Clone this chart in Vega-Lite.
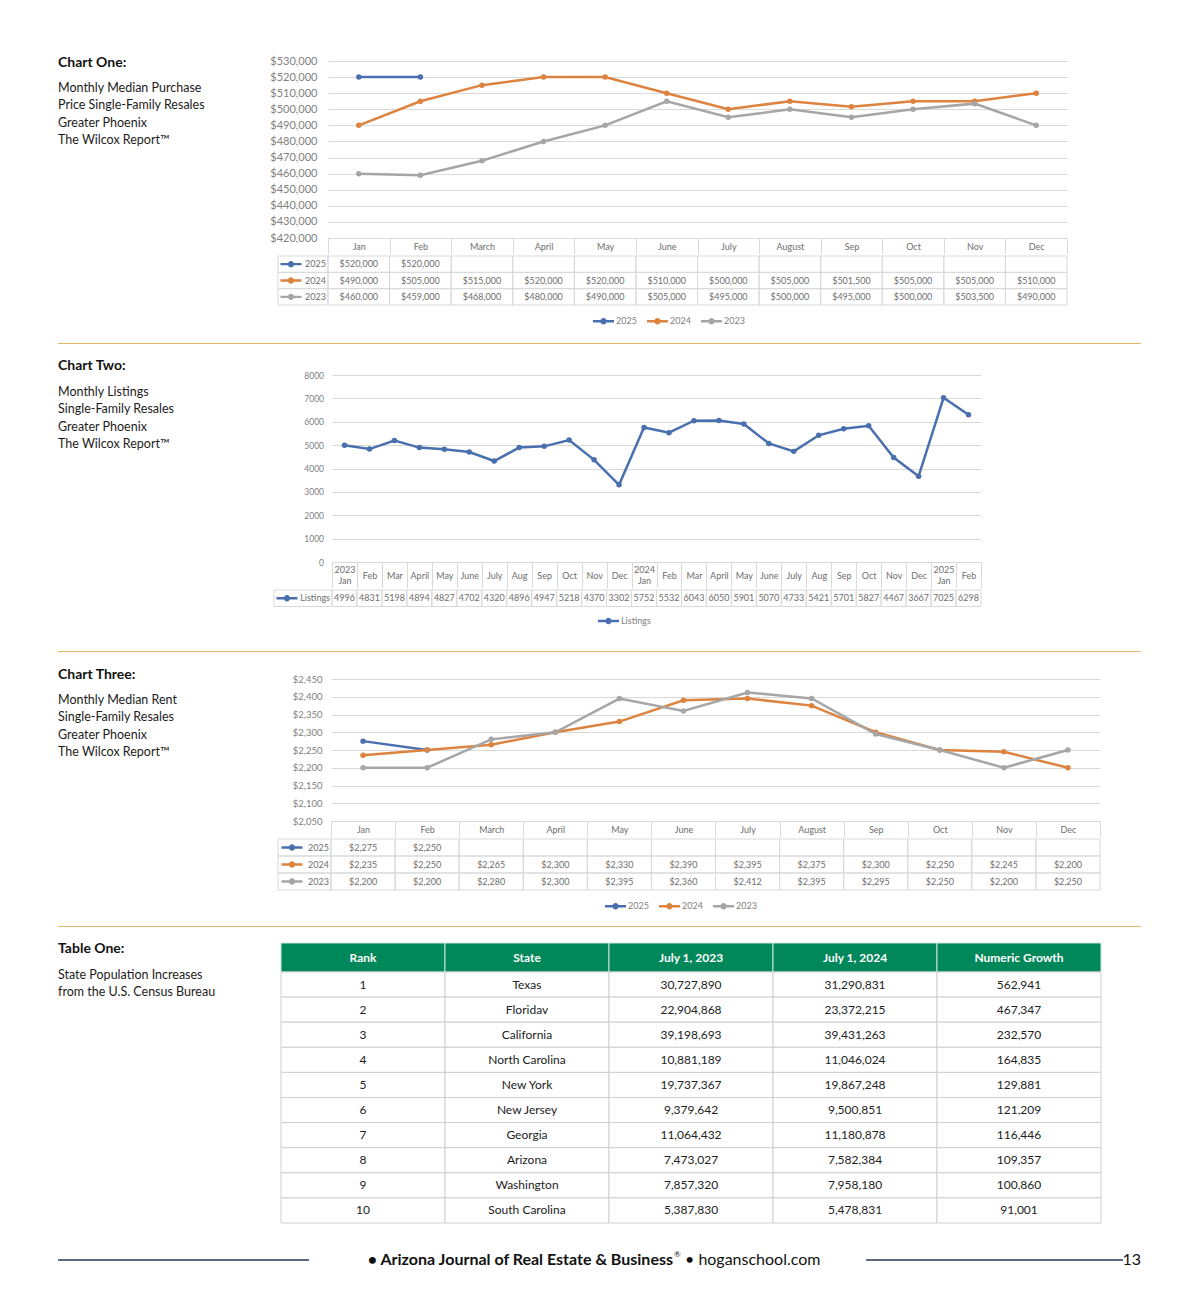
{
"$schema":"https://vega.github.io/schema/vega-lite/v6.json",
"background":"white",
"padding":{"left":57,"top":55,"right":10,"bottom":10},
"autosize":{"type":"pad"},
"spacing":0,
"resolve":{"scale":{"color":"independent"},"legend":{"color":"independent"}},
"config":{"view":{"stroke":null},"font":"Lato"},
"datasets":{
"c1":[{"month":"Jan","series":"2025","value":520000},{"month":"Feb","series":"2025","value":520000},{"month":"March","series":"2025","value":null},{"month":"April","series":"2025","value":null},{"month":"May","series":"2025","value":null},{"month":"June","series":"2025","value":null},{"month":"July","series":"2025","value":null},{"month":"August","series":"2025","value":null},{"month":"Sep","series":"2025","value":null},{"month":"Oct","series":"2025","value":null},{"month":"Nov","series":"2025","value":null},{"month":"Dec","series":"2025","value":null},
{"month":"Jan","series":"2024","value":490000},{"month":"Feb","series":"2024","value":505000},{"month":"March","series":"2024","value":515000},{"month":"April","series":"2024","value":520000},{"month":"May","series":"2024","value":520000},{"month":"June","series":"2024","value":510000},{"month":"July","series":"2024","value":500000},{"month":"August","series":"2024","value":505000},{"month":"Sep","series":"2024","value":501500},{"month":"Oct","series":"2024","value":505000},{"month":"Nov","series":"2024","value":505000},{"month":"Dec","series":"2024","value":510000},
{"month":"Jan","series":"2023","value":460000},{"month":"Feb","series":"2023","value":459000},{"month":"March","series":"2023","value":468000},{"month":"April","series":"2023","value":480000},{"month":"May","series":"2023","value":490000},{"month":"June","series":"2023","value":505000},{"month":"July","series":"2023","value":495000},{"month":"August","series":"2023","value":500000},{"month":"Sep","series":"2023","value":495000},{"month":"Oct","series":"2023","value":500000},{"month":"Nov","series":"2023","value":503500},{"month":"Dec","series":"2023","value":490000}],
"c2":[{"month":"2023 Jan","series":"Listings","value":4996},{"month":"2023 Feb","series":"Listings","value":4831},{"month":"2023 Mar","series":"Listings","value":5198},{"month":"2023 April","series":"Listings","value":4894},{"month":"2023 May","series":"Listings","value":4827},{"month":"2023 June","series":"Listings","value":4702},{"month":"2023 July","series":"Listings","value":4320},{"month":"2023 Aug","series":"Listings","value":4896},{"month":"2023 Sep","series":"Listings","value":4947},{"month":"2023 Oct","series":"Listings","value":5218},{"month":"2023 Nov","series":"Listings","value":4370},{"month":"2023 Dec","series":"Listings","value":3302},{"month":"2024 Jan","series":"Listings","value":5752},{"month":"2024 Feb","series":"Listings","value":5532},{"month":"2024 Mar","series":"Listings","value":6043},{"month":"2024 April","series":"Listings","value":6050},{"month":"2024 May","series":"Listings","value":5901},{"month":"2024 June","series":"Listings","value":5070},{"month":"2024 July","series":"Listings","value":4733},{"month":"2024 Aug","series":"Listings","value":5421},{"month":"2024 Sep","series":"Listings","value":5701},{"month":"2024 Oct","series":"Listings","value":5827},{"month":"2024 Nov","series":"Listings","value":4467},{"month":"2024 Dec","series":"Listings","value":3667},{"month":"2025 Jan","series":"Listings","value":7025},{"month":"2025 Feb","series":"Listings","value":6298}],
"c3":[{"month":"Jan","series":"2025","value":2275},{"month":"Feb","series":"2025","value":2250},{"month":"March","series":"2025","value":null},{"month":"April","series":"2025","value":null},{"month":"May","series":"2025","value":null},{"month":"June","series":"2025","value":null},{"month":"July","series":"2025","value":null},{"month":"August","series":"2025","value":null},{"month":"Sep","series":"2025","value":null},{"month":"Oct","series":"2025","value":null},{"month":"Nov","series":"2025","value":null},{"month":"Dec","series":"2025","value":null},
{"month":"Jan","series":"2024","value":2235},{"month":"Feb","series":"2024","value":2250},{"month":"March","series":"2024","value":2265},{"month":"April","series":"2024","value":2300},{"month":"May","series":"2024","value":2330},{"month":"June","series":"2024","value":2390},{"month":"July","series":"2024","value":2395},{"month":"August","series":"2024","value":2375},{"month":"Sep","series":"2024","value":2300},{"month":"Oct","series":"2024","value":2250},{"month":"Nov","series":"2024","value":2245},{"month":"Dec","series":"2024","value":2200},
{"month":"Jan","series":"2023","value":2200},{"month":"Feb","series":"2023","value":2200},{"month":"March","series":"2023","value":2280},{"month":"April","series":"2023","value":2300},{"month":"May","series":"2023","value":2395},{"month":"June","series":"2023","value":2360},{"month":"July","series":"2023","value":2412},{"month":"August","series":"2023","value":2395},{"month":"Sep","series":"2023","value":2295},{"month":"Oct","series":"2023","value":2250},{"month":"Nov","series":"2023","value":2200},{"month":"Dec","series":"2023","value":2250}],
"t1":[{"Rank":1,"State":"Texas","July 1, 2023":30727890,"July 1, 2024":31290831,"Numeric Growth":562941},{"Rank":2,"State":"Floridav","July 1, 2023":22904868,"July 1, 2024":23372215,"Numeric Growth":467347},{"Rank":3,"State":"California","July 1, 2023":39198693,"July 1, 2024":39431263,"Numeric Growth":232570},{"Rank":4,"State":"North Carolina","July 1, 2023":10881189,"July 1, 2024":11046024,"Numeric Growth":164835},{"Rank":5,"State":"New York","July 1, 2023":19737367,"July 1, 2024":19867248,"Numeric Growth":129881},{"Rank":6,"State":"New Jersey","July 1, 2023":9379642,"July 1, 2024":9500851,"Numeric Growth":121209},{"Rank":7,"State":"Georgia","July 1, 2023":11064432,"July 1, 2024":11180878,"Numeric Growth":116446},{"Rank":8,"State":"Arizona","July 1, 2023":7473027,"July 1, 2024":7582384,"Numeric Growth":109357},{"Rank":9,"State":"Washington","July 1, 2023":7857320,"July 1, 2024":7958180,"Numeric Growth":100860},{"Rank":10,"State":"South Carolina","July 1, 2023":5387830,"July 1, 2024":5478831,"Numeric Growth":91001}]
},
"vconcat":[
{"hconcat":[
 {"width":270,"height":86.67,"layer":[
  {"data":{"values":[{"t":"Monthly Median Purchase"},{"t":"Price Single-Family Resales"},{"t":"Greater Phoenix"},{"t":"The Wilcox Report™"}]},
   "mark":{"type":"text","align":"left","baseline":"middle","fontSize":12.5,"color":"#1c1c1c"},
   "encoding":{"text":{"field":"t"},"x":{"datum":"t","type":"nominal","scale":{"type":"band","paddingInner":0,"paddingOuter":0},"bandPosition":0,"axis":null},
    "y":{"field":"t","type":"nominal","sort":null,"scale":{"type":"point","padding":1,"align":0.779,"domain":["Monthly Median Purchase","Price Single-Family Resales","Greater Phoenix","The Wilcox Report™"]},"axis":null}}},
  {"data":{"values":[{"t":"Chart One:"}]},
   "mark":{"type":"text","align":"left","baseline":"middle","fontSize":14,"fontWeight":"bold","dy":-25,"color":"#111111"},
   "encoding":{"text":{"field":"t"},"x":{"datum":"t","type":"nominal","bandPosition":0},"y":{"datum":"Monthly Median Purchase","type":"nominal"}}}
 ]},
 {"width":739,"height":177,"data":{"name":"c1"},"transform":[{"filter":"isValid(datum.value)"}],
  "mark":{"type":"line","strokeWidth":2.5,"point":{"filled":true,"size":30}},
  "encoding":{
   "x":{"field":"month","type":"nominal","sort":null,"scale":{"type":"band","paddingInner":0,"paddingOuter":0,"domain":["Jan","Feb","March","April","May","June","July","August","Sep","Oct","Nov","Dec"]},
    "axis":{"title":null,"grid":false,"domain":true,"domainColor":"#d9d9d9","ticks":true,"tickBand":"extent","tickSize":16,"tickColor":"#d9d9d9","labelAngle":0,"labelAlign":"center","labelBaseline":"middle","labelPadding":-8,"labelFontSize":9,"labelColor":"#6e6e6e","labelOverlap":false}},
   "y":{"field":"value","type":"quantitative","scale":{"domain":[420000,530000],"nice":false,"zero":false},
    "axis":{"title":null,"values":[420000,430000,440000,450000,460000,470000,480000,490000,500000,510000,520000,530000],"format":"$,.0f","grid":true,"gridColor":"#d9d9d9","domain":false,"ticks":false,"tickSize":0,"labelPadding":11,"labelFontSize":11,"labelColor":"#808080"}},
   "color":{"field":"series","type":"nominal","scale":{"domain":["2025","2024","2023"],"range":["#4A6FAE","#DD8340","#A6A6A6"]},"legend":null}}}
],"spacing":0,"bounds":"flush","resolve":{"scale":{"color":"independent"},"legend":{"color":"independent"}}},
{"hconcat":[
 {"width":220,"height":1,"data":{"values":[]},"mark":"point"},
 {"width":50,"height":49,"data":{"values":[{"series":"2025"},{"series":"2024"},{"series":"2023"}]},
  "encoding":{"y":{"field":"series","type":"nominal","sort":null,"scale":{"type":"band","paddingInner":0,"paddingOuter":0,"domain":["2025","2024","2023"]},"axis":null}},
  "layer":[
   {"mark":{"type":"rect","filled":false,"color":"#d9d9d9","strokeWidth":1},"encoding":{"x":{"datum":"k","type":"nominal","scale":{"type":"band","paddingInner":0,"paddingOuter":0},"axis":null}}},
   {"mark":{"type":"point","shape":"M-1,-0.11H1V0.11H-1Z M-0.3,0A0.3,0.3 0 1,1 0.3,0A0.3,0.3 0 1,1 -0.3,0Z","filled":true,"size":441,"opacity":1},
    "encoding":{"x":{"datum":"k","type":"nominal","bandPosition":0.26},
     "color":{"field":"series","type":"nominal","scale":{"domain":["2025","2024","2023"],"range":["#4A6FAE","#DD8340","#A6A6A6"]},
      "legend":{"orient":"none","legendX":315,"legendY":54.5,"direction":"horizontal","title":null,"symbolType":"M-1,-0.11H1V0.11H-1Z M-0.3,0A0.3,0.3 0 1,1 0.3,0A0.3,0.3 0 1,1 -0.3,0Z","symbolSize":441,"symbolOpacity":1,"symbolStrokeWidth":0,"labelFontSize":9,"labelColor":"#7f7f7f","labelOffset":2,"columnPadding":10}}}},
   {"mark":{"type":"text","align":"right","baseline":"middle","dx":-2,"fontSize":9,"color":"#6e6e6e"},"encoding":{"x":{"datum":"k","type":"nominal","bandPosition":1},"text":{"field":"series"}}}
  ]},
 {"width":739,"height":49,"data":{"name":"c1"},
  "encoding":{
   "x":{"field":"month","type":"nominal","sort":null,"scale":{"type":"band","paddingInner":0,"paddingOuter":0,"domain":["Jan","Feb","March","April","May","June","July","August","Sep","Oct","Nov","Dec"]},"axis":null},
   "y":{"field":"series","type":"nominal","sort":null,"scale":{"type":"band","paddingInner":0,"paddingOuter":0,"domain":["2025","2024","2023"]},"axis":null}},
  "layer":[
   {"mark":{"type":"rect","filled":false,"color":"#d9d9d9","strokeWidth":1}},
   {"transform":[{"filter":"isValid(datum.value)"}],"mark":{"type":"text","fontSize":9,"color":"#6e6e6e","baseline":"middle"},"encoding":{"text":{"field":"value","type":"quantitative","format":"$,.0f"}}}
  ]}
],"spacing":0,"bounds":"flush","resolve":{"scale":{"color":"independent"},"legend":{"color":"independent"}}},
{"width":1,"height":16,"data":{"values":[]},"mark":"point"},
{"width":1083,"height":1,"data":{"values":[{}]},"mark":{"type":"rule","color":"#E0B66A","strokeWidth":1},"encoding":{"y":{"datum":"s","type":"nominal","axis":null}}},
{"width":1,"height":13.5,"data":{"values":[]},"mark":"point"},
{"hconcat":[
 {"width":274,"height":86.67,"layer":[
  {"data":{"values":[{"t":"Monthly Listings"},{"t":"Single-Family Resales"},{"t":"Greater Phoenix"},{"t":"The Wilcox Report™"}]},
   "mark":{"type":"text","align":"left","baseline":"middle","fontSize":12.5,"color":"#1c1c1c"},
   "encoding":{"text":{"field":"t"},"x":{"datum":"t","type":"nominal","scale":{"type":"band","paddingInner":0,"paddingOuter":0},"bandPosition":0,"axis":null},
    "y":{"field":"t","type":"nominal","sort":null,"scale":{"type":"point","padding":1,"align":0.49,"domain":["Monthly Listings","Single-Family Resales","Greater Phoenix","The Wilcox Report™"]},"axis":null}}},
  {"data":{"values":[{"t":"Chart Two:"}]},
   "mark":{"type":"text","align":"left","baseline":"middle","fontSize":14,"fontWeight":"bold","dy":-26,"color":"#111111"},
   "encoding":{"text":{"field":"t"},"x":{"datum":"t","type":"nominal","bandPosition":0},"y":{"datum":"Monthly Listings","type":"nominal"}}}
 ]},
 {"width":649,"height":187,"data":{"name":"c2"},
  "mark":{"type":"line","strokeWidth":2.5,"point":{"filled":true,"size":30}},
  "encoding":{
   "x":{"field":"month","type":"nominal","sort":null,"scale":{"type":"band","paddingInner":0,"paddingOuter":0,"domain":["2023 Jan","2023 Feb","2023 Mar","2023 April","2023 May","2023 June","2023 July","2023 Aug","2023 Sep","2023 Oct","2023 Nov","2023 Dec","2024 Jan","2024 Feb","2024 Mar","2024 April","2024 May","2024 June","2024 July","2024 Aug","2024 Sep","2024 Oct","2024 Nov","2024 Dec","2025 Jan","2025 Feb"]},
    "axis":{"title":null,"grid":false,"domain":true,"domainColor":"#d9d9d9","ticks":true,"tickBand":"extent","tickSize":26,"tickColor":"#d9d9d9","labelAngle":0,"labelAlign":"center","labelBaseline":"middle",
     "labelPadding":{"condition":{"test":"split(datum.value, ' ')[1] == 'Jan'","value":-18.5},"value":-13},
     "labelFontSize":9,"labelLineHeight":11,"labelColor":"#6e6e6e","labelOverlap":false,"labelExpr":"split(datum.value, ' ')[1] == 'Jan' ? split(datum.value, ' ') : split(datum.value, ' ')[1]"}},
   "y":{"field":"value","type":"quantitative","scale":{"domain":[0,8000],"nice":false,"zero":false},
    "axis":{"title":null,"values":[0,1000,2000,3000,4000,5000,6000,7000,8000],"format":"d","grid":true,"gridColor":"#d9d9d9","domain":false,"ticks":false,"tickSize":0,"labelPadding":8.5,"labelFontSize":8.5,"labelColor":"#808080"}},
   "color":{"field":"series","type":"nominal","scale":{"domain":["Listings"],"range":["#4A6FAE"]},"legend":null}}}
],"spacing":0,"bounds":"flush","resolve":{"scale":{"color":"independent"},"legend":{"color":"independent"}}},
{"hconcat":[
 {"width":216,"height":1,"data":{"values":[]},"mark":"point"},
 {"width":58,"height":16.5,"data":{"values":[{"series":"Listings"}]},
  "encoding":{"y":{"field":"series","type":"nominal","scale":{"type":"band","paddingInner":0,"paddingOuter":0,"domain":["Listings"]},"axis":null}},
  "layer":[
   {"mark":{"type":"rect","filled":false,"color":"#d9d9d9","strokeWidth":1},"encoding":{"x":{"datum":"k","type":"nominal","scale":{"type":"band","paddingInner":0,"paddingOuter":0},"axis":null}}},
   {"mark":{"type":"point","shape":"M-1,-0.11H1V0.11H-1Z M-0.3,0A0.3,0.3 0 1,1 0.3,0A0.3,0.3 0 1,1 -0.3,0Z","filled":true,"size":441,"opacity":1},
    "encoding":{"x":{"datum":"k","type":"nominal","bandPosition":0.224},
     "color":{"field":"series","type":"nominal","scale":{"domain":["Listings"],"range":["#4A6FAE"]},
      "legend":{"orient":"none","legendX":324,"legendY":20.5,"direction":"horizontal","title":null,"symbolType":"M-1,-0.11H1V0.11H-1Z M-0.3,0A0.3,0.3 0 1,1 0.3,0A0.3,0.3 0 1,1 -0.3,0Z","symbolSize":441,"symbolOpacity":1,"symbolStrokeWidth":0,"labelFontSize":9,"labelColor":"#7f7f7f","labelOffset":2,"columnPadding":10}}}},
   {"mark":{"type":"text","align":"right","baseline":"middle","dx":-2,"fontSize":9,"color":"#6e6e6e"},"encoding":{"x":{"datum":"k","type":"nominal","bandPosition":1},"text":{"field":"series"}}}
  ]},
 {"width":649,"height":16.5,"data":{"name":"c2"},
  "encoding":{
   "x":{"field":"month","type":"nominal","sort":null,"scale":{"type":"band","paddingInner":0,"paddingOuter":0,"domain":["2023 Jan","2023 Feb","2023 Mar","2023 April","2023 May","2023 June","2023 July","2023 Aug","2023 Sep","2023 Oct","2023 Nov","2023 Dec","2024 Jan","2024 Feb","2024 Mar","2024 April","2024 May","2024 June","2024 July","2024 Aug","2024 Sep","2024 Oct","2024 Nov","2024 Dec","2025 Jan","2025 Feb"]},"axis":null},
   "y":{"field":"series","type":"nominal","scale":{"type":"band","paddingInner":0,"paddingOuter":0,"domain":["Listings"]},"axis":null}},
  "layer":[
   {"mark":{"type":"rect","filled":false,"color":"#d9d9d9","strokeWidth":1}},
   {"mark":{"type":"text","fontSize":9,"color":"#6e6e6e","baseline":"middle"},"encoding":{"text":{"field":"value","type":"quantitative","format":"d"}}}
  ]}
],"spacing":0,"bounds":"flush","resolve":{"scale":{"color":"independent"},"legend":{"color":"independent"}}},
{"width":1,"height":24,"data":{"values":[]},"mark":"point"},
{"width":1083,"height":1,"data":{"values":[{}]},"mark":{"type":"rule","color":"#E0B66A","strokeWidth":1},"encoding":{"y":{"datum":"s","type":"nominal","axis":null}}},
{"width":1,"height":15.5,"data":{"values":[]},"mark":"point"},
{"hconcat":[
 {"width":273,"height":86.67,"layer":[
  {"data":{"values":[{"t":"Monthly Median Rent"},{"t":"Single-Family Resales"},{"t":"Greater Phoenix"},{"t":"The Wilcox Report™"}]},
   "mark":{"type":"text","align":"left","baseline":"middle","fontSize":12.5,"color":"#1c1c1c"},
   "encoding":{"text":{"field":"t"},"x":{"datum":"t","type":"nominal","scale":{"type":"band","paddingInner":0,"paddingOuter":0},"bandPosition":0,"axis":null},
    "y":{"field":"t","type":"nominal","sort":null,"scale":{"type":"point","padding":1,"align":0.606,"domain":["Monthly Median Rent","Single-Family Resales","Greater Phoenix","The Wilcox Report™"]},"axis":null}}},
  {"data":{"values":[{"t":"Chart Three:"}]},
   "mark":{"type":"text","align":"left","baseline":"middle","fontSize":14,"fontWeight":"bold","dy":-25,"color":"#111111"},
   "encoding":{"text":{"field":"t"},"x":{"datum":"t","type":"nominal","bandPosition":0},"y":{"datum":"Monthly Median Rent","type":"nominal"}}}
 ]},
 {"width":769,"height":142,"data":{"name":"c3"},"transform":[{"filter":"isValid(datum.value)"}],
  "mark":{"type":"line","strokeWidth":2.5,"point":{"filled":true,"size":30}},
  "encoding":{
   "x":{"field":"month","type":"nominal","sort":null,"scale":{"type":"band","paddingInner":0,"paddingOuter":0,"domain":["Jan","Feb","March","April","May","June","July","August","Sep","Oct","Nov","Dec"]},
    "axis":{"title":null,"grid":false,"domain":true,"domainColor":"#d9d9d9","ticks":true,"tickBand":"extent","tickSize":16,"tickColor":"#d9d9d9","labelAngle":0,"labelAlign":"center","labelBaseline":"middle","labelPadding":-8,"labelFontSize":9,"labelColor":"#6e6e6e","labelOverlap":false}},
   "y":{"field":"value","type":"quantitative","scale":{"domain":[2050,2450],"nice":false,"zero":false},
    "axis":{"title":null,"values":[2050,2100,2150,2200,2250,2300,2350,2400,2450],"format":"$,.0f","grid":true,"gridColor":"#d9d9d9","domain":false,"ticks":false,"tickSize":0,"labelPadding":9,"labelFontSize":9.5,"labelColor":"#808080"}},
   "color":{"field":"series","type":"nominal","scale":{"domain":["2025","2024","2023"],"range":["#4A6FAE","#DD8340","#A6A6A6"]},"legend":null}}}
],"spacing":0,"bounds":"flush","resolve":{"scale":{"color":"independent"},"legend":{"color":"independent"}}},
{"hconcat":[
 {"width":220,"height":1,"data":{"values":[]},"mark":"point"},
 {"width":53,"height":51,"data":{"values":[{"series":"2025"},{"series":"2024"},{"series":"2023"}]},
  "encoding":{"y":{"field":"series","type":"nominal","sort":null,"scale":{"type":"band","paddingInner":0,"paddingOuter":0,"domain":["2025","2024","2023"]},"axis":null}},
  "layer":[
   {"mark":{"type":"rect","filled":false,"color":"#d9d9d9","strokeWidth":1},"encoding":{"x":{"datum":"k","type":"nominal","scale":{"type":"band","paddingInner":0,"paddingOuter":0},"axis":null}}},
   {"mark":{"type":"point","shape":"M-1,-0.11H1V0.11H-1Z M-0.3,0A0.3,0.3 0 1,1 0.3,0A0.3,0.3 0 1,1 -0.3,0Z","filled":true,"size":441,"opacity":1},
    "encoding":{"x":{"datum":"k","type":"nominal","bandPosition":0.264},
     "color":{"field":"series","type":"nominal","scale":{"domain":["2025","2024","2023"],"range":["#4A6FAE","#DD8340","#A6A6A6"]},
      "legend":{"orient":"none","legendX":327,"legendY":56.5,"direction":"horizontal","title":null,"symbolType":"M-1,-0.11H1V0.11H-1Z M-0.3,0A0.3,0.3 0 1,1 0.3,0A0.3,0.3 0 1,1 -0.3,0Z","symbolSize":441,"symbolOpacity":1,"symbolStrokeWidth":0,"labelFontSize":9,"labelColor":"#7f7f7f","labelOffset":2,"columnPadding":10}}}},
   {"mark":{"type":"text","align":"right","baseline":"middle","dx":-2,"fontSize":9,"color":"#6e6e6e"},"encoding":{"x":{"datum":"k","type":"nominal","bandPosition":1},"text":{"field":"series"}}}
  ]},
 {"width":769,"height":51,"data":{"name":"c3"},
  "encoding":{
   "x":{"field":"month","type":"nominal","sort":null,"scale":{"type":"band","paddingInner":0,"paddingOuter":0,"domain":["Jan","Feb","March","April","May","June","July","August","Sep","Oct","Nov","Dec"]},"axis":null},
   "y":{"field":"series","type":"nominal","sort":null,"scale":{"type":"band","paddingInner":0,"paddingOuter":0,"domain":["2025","2024","2023"]},"axis":null}},
  "layer":[
   {"mark":{"type":"rect","filled":false,"color":"#d9d9d9","strokeWidth":1}},
   {"transform":[{"filter":"isValid(datum.value)"}],"mark":{"type":"text","fontSize":9,"color":"#6e6e6e","baseline":"middle"},"encoding":{"text":{"field":"value","type":"quantitative","format":"$,.0f"}}}
  ]}
],"spacing":0,"bounds":"flush","resolve":{"scale":{"color":"independent"},"legend":{"color":"independent"}}},
{"width":1,"height":14,"data":{"values":[]},"mark":"point"},
{"width":1083,"height":1,"data":{"values":[{}]},"mark":{"type":"rule","color":"#E0B66A","strokeWidth":1},"encoding":{"y":{"datum":"s","type":"nominal","axis":null}}},
{"width":1,"height":13.5,"data":{"values":[]},"mark":"point"},
{"hconcat":[
 {"width":223,"height":51,"layer":[
  {"data":{"values":[{"t":"State Population Increases"},{"t":"from the U.S. Census Bureau"}]},
   "mark":{"type":"text","align":"left","baseline":"middle","fontSize":12.5,"color":"#1c1c1c"},
   "encoding":{"text":{"field":"t"},"x":{"datum":"t","type":"nominal","scale":{"type":"band","paddingInner":0,"paddingOuter":0},"bandPosition":0,"axis":null},
    "y":{"field":"t","type":"nominal","sort":null,"scale":{"type":"point","padding":1,"align":0.941,"domain":["State Population Increases","from the U.S. Census Bureau"]},"axis":null}}},
  {"data":{"values":[{"t":"Table One:"}]},
   "mark":{"type":"text","align":"left","baseline":"middle","fontSize":14,"fontWeight":"bold","dy":-26,"color":"#111111"},
   "encoding":{"text":{"field":"t"},"x":{"datum":"t","type":"nominal","bandPosition":0},"y":{"datum":"State Population Increases","type":"nominal"}}}
 ]},
 {"width":820,"height":280,"resolve":{"scale":{"y":"independent"}},
  "layer":[
   {"data":{"values":[{"h":"Rank"},{"h":"State"},{"h":"July 1, 2023"},{"h":"July 1, 2024"},{"h":"Numeric Growth"}]},
    "encoding":{
     "x":{"field":"h","type":"nominal","sort":null,"scale":{"type":"band","paddingInner":0,"paddingOuter":0,"domain":["Rank","State","July 1, 2023","July 1, 2024","Numeric Growth"]},"axis":null},
     "y":{"datum":"header","type":"nominal","scale":{"type":"band","paddingInner":0,"paddingOuter":0,"range":[0,29]},"axis":null}},
    "layer":[
     {"mark":{"type":"rect","fill":"#00875A","stroke":"#cde4d8","strokeWidth":1}},
     {"mark":{"type":"text","color":"#ffffff","fontWeight":"bold","fontSize":12,"baseline":"middle"},"encoding":{"text":{"field":"h"}}}
    ]},
   {"data":{"name":"t1"},
    "transform":[{"fold":["Rank","State","July 1, 2023","July 1, 2024","Numeric Growth"],"as":["col","val"]}],
    "encoding":{
     "x":{"field":"col","type":"nominal","sort":null,"scale":{"type":"band","paddingInner":0,"paddingOuter":0,"domain":["Rank","State","July 1, 2023","July 1, 2024","Numeric Growth"]},"axis":null},
     "y":{"field":"Rank","type":"ordinal","scale":{"type":"band","paddingInner":0,"paddingOuter":0,"range":[29,280],"domain":[1,2,3,4,5,6,7,8,9,10]},"axis":null}},
    "layer":[
     {"mark":{"type":"rect","fill":"#ffffff","stroke":"#cfcfcf","strokeWidth":1}},
     {"transform":[{"filter":{"field":"col","oneOf":["Rank","State"]}}],"mark":{"type":"text","color":"#222222","fontSize":12,"baseline":"middle"},"encoding":{"text":{"field":"val","type":"nominal"}}},
     {"transform":[{"filter":{"field":"col","oneOf":["July 1, 2023","July 1, 2024","Numeric Growth"]}}],"mark":{"type":"text","color":"#222222","fontSize":12,"baseline":"middle"},"encoding":{"text":{"field":"val","type":"quantitative","format":",d"}}}
    ]}
  ]}
],"spacing":0,"bounds":"flush"},
{"width":1,"height":27,"data":{"values":[]},"mark":"point"},
{"hconcat":[
 {"width":251,"height":10,"data":{"values":[{}]},"mark":{"type":"rule","color":"#2B3650","strokeWidth":1.5},"encoding":{"y":{"datum":"f","type":"nominal","axis":null}}},
 {"width":364,"height":10,"data":{"values":[{"t":"• Arizona Journal of Real Estate & Business"}]},"mark":{"type":"text","align":"right","baseline":"middle","fontSize":16,"fontWeight":"bold","color":"#111111"},"encoding":{"text":{"field":"t"},"x":{"datum":"f","type":"nominal","scale":{"type":"band","paddingInner":0,"paddingOuter":0},"bandPosition":1,"axis":null}}},
 {"width":12,"height":10,"data":{"values":[{"t":"®"}]},"mark":{"type":"text","align":"left","baseline":"middle","fontSize":8,"dy":-5,"dx":1,"color":"#111111"},"encoding":{"text":{"field":"t"},"x":{"datum":"f","type":"nominal","scale":{"type":"band","paddingInner":0,"paddingOuter":0},"bandPosition":0,"axis":null}}},
 {"width":181,"height":10,"data":{"values":[{"t":"• hoganschool.com"}]},"mark":{"type":"text","align":"left","baseline":"middle","fontSize":16,"color":"#111111"},"encoding":{"text":{"field":"t"},"x":{"datum":"f","type":"nominal","scale":{"type":"band","paddingInner":0,"paddingOuter":0},"bandPosition":0,"axis":null}}},
 {"width":257,"height":10,"data":{"values":[{}]},"mark":{"type":"rule","color":"#2B3650","strokeWidth":1.5},"encoding":{"y":{"datum":"f","type":"nominal","axis":null}}},
 {"width":18,"height":10,"data":{"values":[{"t":"13"}]},"mark":{"type":"text","align":"right","baseline":"middle","fontSize":16,"color":"#111111"},"encoding":{"text":{"field":"t"},"x":{"datum":"f","type":"nominal","scale":{"type":"band","paddingInner":0,"paddingOuter":0},"bandPosition":1,"axis":null}}}
],"spacing":0,"bounds":"flush"}
]
}
